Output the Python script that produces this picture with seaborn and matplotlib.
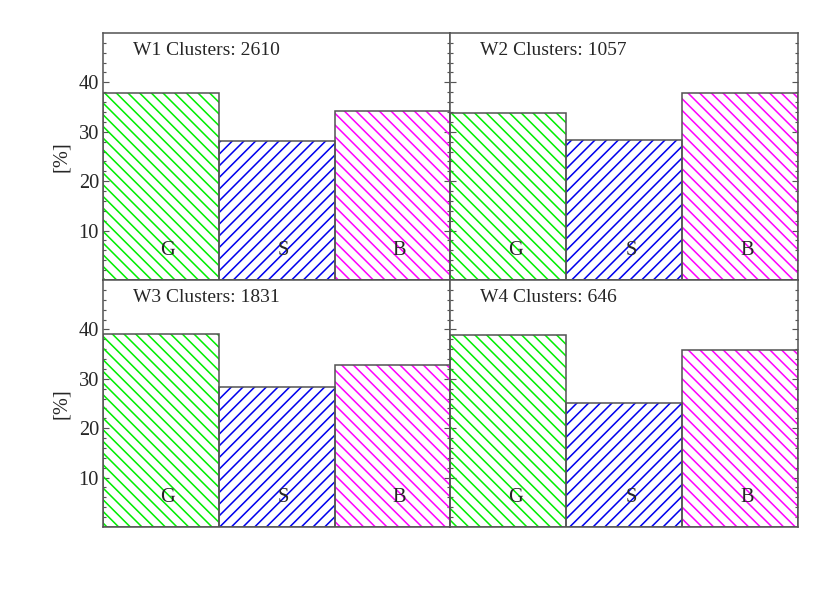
import numpy as np
import pandas as pd
import seaborn as sns
import matplotlib.pyplot as plt

# данные по полям W1..W4: доли групп G, S, B в процентах
fields = ['W1', 'W2', 'W3', 'W4']
n_clusters = [2610, 1057, 1831, 646]
classes = ['G', 'S', 'B']
g_vals = [37.8, 33.8, 39.0, 38.8]
s_vals = [28.2, 28.4, 28.4, 25.2]
b_vals = [34.2, 37.8, 32.7, 35.9]

colors = ['#00ee00', '#0000ee', '#ff00ff']
hatches = ['\\\\\\\\', '////', '\\\\\\\\']
edge = '#555555'

sns.set_style('ticks')
plt.rcParams['font.family'] = ['Liberation Serif', 'DejaVu Serif']
plt.rcParams['hatch.linewidth'] = 0.8
plt.rcParams['axes.edgecolor'] = edge

dpi = 140
fig, axes = plt.subplots(2, 2, figsize=(830 / dpi, 593 / dpi), dpi=dpi)
fig.subplots_adjust(left=0.124, right=0.9614, top=0.9444, bottom=0.1113,
                    wspace=0, hspace=0)

for i, ax in enumerate(axes.flat):
    vals = [g_vals[i], s_vals[i], b_vals[i]]
    df = pd.DataFrame({'cls': classes, 'val': vals})

    # штриховка
    sns.barplot(data=df, x='cls', y='val', hue='cls', palette=colors,
                width=1, errorbar=None, legend=False, ax=ax)
    for p, c, h in zip(ax.patches, colors, hatches):
        p.set_facecolor('none')
        p.set_edgecolor(c)
        p.set_hatch(h)
        p.set_linewidth(0)
    # контур столбцов
    n0 = len(ax.patches)
    sns.barplot(data=df, x='cls', y='val', fill=False, color=edge,
                width=1, errorbar=None, ax=ax)
    for p in ax.patches[n0:]:
        p.set_edgecolor(edge)
        p.set_linewidth(0.8)

    for j, c in enumerate(classes):
        ax.text(j + 0.06, 5.9, c, ha='center', va='center', fontsize=10.5)
    ax.text(0.086, 0.93, f'{fields[i]} Clusters: {n_clusters[i]}',
            transform=ax.transAxes, ha='left', va='center', fontsize=10)

    ax.set_xlim(-0.5, 2.5)
    ax.set_ylim(0, 50)
    ax.set_xticks([])
    ax.set_xlabel('')
    ax.set_yticks([10, 20, 30, 40])
    ax.set_yticks([v for v in range(0, 51, 2) if v % 10 != 0], minor=True)
    ax.tick_params(axis='y', which='both', direction='in', left=True,
                   right=True, color=edge, labelsize=10.5, pad=2)
    ax.tick_params(axis='y', which='major', length=3.1, width=0.6)
    ax.tick_params(axis='y', which='minor', length=1.7, width=0.6)
    for s in ax.spines.values():
        s.set_visible(True)
        s.set_linewidth(0.8)
    if i % 2 == 0:
        ax.set_ylabel('[%]', fontsize=10.5, labelpad=4)
    else:
        ax.set_ylabel('')
        ax.tick_params(axis='y', labelleft=False)

plt.savefig('out.png', dpi=dpi)
